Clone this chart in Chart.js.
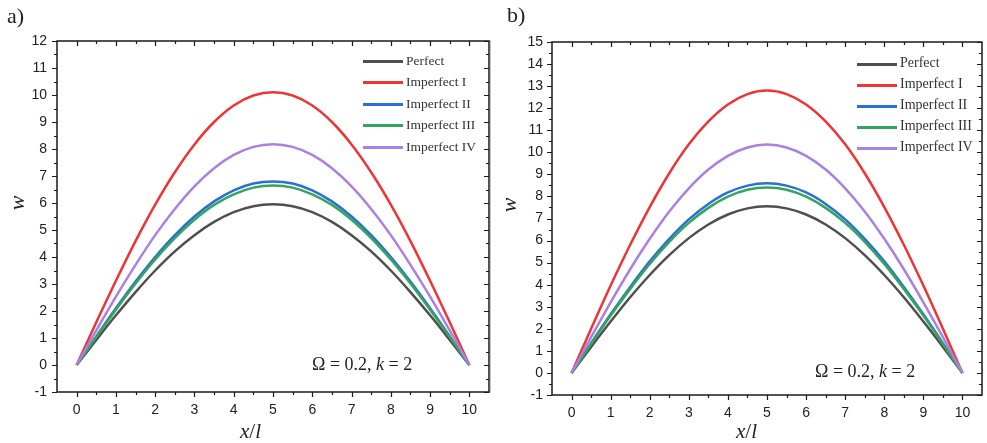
<!DOCTYPE html>
<html>
<head>
<meta charset="utf-8">
<script src="https://cdn.jsdelivr.net/npm/chart.js@4.4.1/dist/chart.umd.min.js"></script>
<style>
  body { margin: 0; background: #fff; }
  #wrap { position: relative; width: 987px; height: 443px; overflow: hidden; }
  canvas { position: absolute; top: 0; }
  .txt { position: absolute; font-family: 'Liberation Serif', 'Times New Roman', serif; color: #222; white-space: nowrap; }
  .leg { position: absolute; font-family: 'Liberation Serif', serif; color: #333; white-space: nowrap; }
  .sw { position: absolute; height: 3px; }
</style>
</head>
<body>
<div id="wrap">
  <canvas id="chartA" width="490" height="443" style="left:0"></canvas>
  <canvas id="chartB" width="497" height="443" style="left:490px"></canvas>
  <div style="position:absolute;left:490px;top:40px;width:1px;height:353px;background:#c8c8c8"></div>
</div>
<script>
// --- DATA ---
const xValues = [0, 0.5, 1, 1.5, 2, 2.5, 3, 3.5, 4, 4.5, 5, 5.5, 6, 6.5, 7, 7.5, 8, 8.5, 9, 9.5, 10];
const xTicks = [0, 1, 2, 3, 4, 5, 6, 7, 8, 9, 10];
const seriesNames = ['Perfect', 'Imperfect I', 'Imperfect II', 'Imperfect III', 'Imperfect IV'];
const seriesColors = ['#4f4f4f', '#ee3434', '#2a6fd6', '#34a55f', '#ab80e2'];

// panel a)
const aPerfect = [0, 0.93, 1.84, 2.70, 3.50, 4.21, 4.81, 5.30, 5.66, 5.88, 5.95, 5.88, 5.66, 5.30, 4.81, 4.21, 3.50, 2.70, 1.84, 0.93, 0];
const aImpI    = [0, 1.58, 3.12, 4.59, 5.94, 7.14, 8.17, 9.00, 9.61, 9.98, 10.1, 9.98, 9.61, 9.00, 8.17, 7.14, 5.94, 4.59, 3.12, 1.58, 0];
const aImpII   = [0, 1.06, 2.10, 3.09, 4.00, 4.81, 5.50, 6.06, 6.47, 6.72, 6.80, 6.72, 6.47, 6.06, 5.50, 4.81, 4.00, 3.09, 2.10, 1.06, 0];
const aImpIII  = [0, 1.04, 2.05, 3.02, 3.91, 4.70, 5.38, 5.93, 6.32, 6.57, 6.65, 6.57, 6.32, 5.93, 5.38, 4.70, 3.91, 3.02, 2.05, 1.04, 0];
const aImpIV   = [0, 1.28, 2.53, 3.71, 4.81, 5.78, 6.62, 7.29, 7.78, 8.08, 8.18, 8.08, 7.78, 7.29, 6.62, 5.78, 4.81, 3.71, 2.53, 1.28, 0];

// panel b)
const bPerfect = [0, 1.18, 2.33, 3.43, 4.44, 5.34, 6.11, 6.73, 7.18, 7.46, 7.55, 7.46, 7.18, 6.73, 6.11, 5.34, 4.44, 3.43, 2.33, 1.18, 0];
const bImpI    = [0, 2.00, 3.96, 5.81, 7.52, 9.05, 10.36, 11.40, 12.17, 12.64, 12.8, 12.64, 12.17, 11.40, 10.36, 9.05, 7.52, 5.81, 3.96, 2.00, 0];
const bImpII   = [0, 1.35, 2.66, 3.90, 5.06, 6.08, 6.96, 7.66, 8.18, 8.49, 8.60, 8.49, 8.18, 7.66, 6.96, 6.08, 5.06, 3.90, 2.66, 1.35, 0];
const bImpIII  = [0, 1.31, 2.60, 3.81, 4.94, 5.94, 6.80, 7.48, 7.99, 8.30, 8.40, 8.30, 7.99, 7.48, 6.80, 5.94, 4.94, 3.81, 2.60, 1.31, 0];
const bImpIV   = [0, 1.62, 3.20, 4.70, 6.08, 7.32, 8.37, 9.22, 9.84, 10.22, 10.35, 10.22, 9.84, 9.22, 8.37, 7.32, 6.08, 4.70, 3.20, 1.62, 0];

const aRange = [-1, 12];
const bRange = [-1, 15];

// frame with inward mirror ticks on top/right, outward ticks bottom/left, plus minor ticks
const frameTicks = {
  id: 'frameTicks',
  afterDraw(chart) {
    const { ctx, chartArea: a, scales: { x, y } } = chart;
    const mids = vals => vals.slice(1).map((v, i) => (v + vals[i]) / 2);
    const xs = x.ticks.map(t => t.value);
    const ys = y.ticks.map(t => t.value);
    ctx.save();
    ctx.strokeStyle = '#1a1a1a';
    ctx.lineWidth = 1.2;
    ctx.beginPath();
    const tickX = (v, len) => {
      const p = Math.round(x.getPixelForValue(v)) + 0.5;
      ctx.moveTo(p, a.bottom); ctx.lineTo(p, a.bottom + len);
      ctx.moveTo(p, a.top); ctx.lineTo(p, a.top + len);
    };
    const tickY = (v, len) => {
      const p = Math.round(y.getPixelForValue(v)) + 0.5;
      ctx.moveTo(a.left, p); ctx.lineTo(a.left - len, p);
      ctx.moveTo(a.right, p); ctx.lineTo(a.right - len, p);
    };
    xs.forEach(v => tickX(v, 5));
    mids(xs).forEach(v => tickX(v, 3));
    ys.forEach(v => tickY(v, 5));
    mids(ys).forEach(v => tickY(v, 3));
    ctx.stroke();
    ctx.lineWidth = 1.5;
    ctx.strokeRect(a.left, a.top, a.right - a.left, a.bottom - a.top);
    ctx.restore();
  }
};

function makePanel(id, series, yRange, geo) {
  const ctx = document.getElementById(id).getContext('2d');
  return new Chart(ctx, {
    type: 'line',
    data: {
      datasets: series.map((vals, i) => ({
        label: seriesNames[i],
        data: xValues.map((xv, j) => ({ x: xv, y: vals[j] })),
        borderColor: seriesColors[i],
        borderWidth: 2.5,
        pointRadius: 0,
        tension: 0.4,
        cubicInterpolationMode: 'monotone',
        order: series.length - i
      }))
    },
    options: {
      responsive: false,
      animation: false,
      layout: { padding: { top: geo.top, right: geo.right, left: 0, bottom: 0 } },
      plugins: { legend: { display: false }, tooltip: { enabled: false } },
      scales: {
        x: {
          type: 'linear', min: -0.5, max: 10.5,
          afterBuildTicks: s => { s.ticks = xTicks.map(v => ({ value: v })); },
          afterFit: s => { s.height = geo.xh; },
          grid: { display: false, drawTicks: false },
          border: { display: false },
          ticks: { padding: 10, color: '#222', font: { family: 'Liberation Sans', size: 14 } }
        },
        y: {
          min: yRange[0], max: yRange[1],
          afterFit: s => { s.width = geo.yw; },
          grid: { display: false, drawTicks: false },
          border: { display: false },
          ticks: { stepSize: 1, padding: geo.ypad, color: '#222', font: { family: 'Liberation Sans', size: 14 } }
        }
      }
    },
    plugins: [frameTicks]
  });
}

makePanel('chartA', [aPerfect, aImpI, aImpII, aImpIII, aImpIV], aRange, { top: 41, right: 1, xh: 51, yw: 57, ypad: 10 });
makePanel('chartB', [bPerfect, bImpI, bImpII, bImpIII, bImpIV], bRange, { top: 42, right: 5, xh: 48, yw: 62, ypad: 9 });

// --- text overlays ---
const wrap = document.getElementById('wrap');
function addText(html, style, cls) {
  const d = document.createElement('div');
  d.className = cls || 'txt';
  d.innerHTML = html;
  Object.assign(d.style, style);
  wrap.appendChild(d);
  return d;
}
addText('a)', { left: '7px', top: '3px', fontSize: '22px' });
addText('b)', { left: '507px', top: '2px', fontSize: '22px' });
addText('<i>x</i>/<i>l</i>', { left: '240px', top: '419px', fontSize: '21px' });
addText('<i>x</i>/<i>l</i>', { left: '736px', top: '419px', fontSize: '21px' });
addText('<i>w</i>', { left: '10px', top: '190px', fontSize: '22px', transform: 'rotate(-90deg)' });
addText('<i>w</i>', { left: '502px', top: '192px', fontSize: '22px', transform: 'rotate(-90deg)' });
addText('\u03A9 = 0.2, <i>k</i> = 2', { left: '312px', top: '354px', fontSize: '18px' });
addText('\u03A9 = 0.2, <i>k</i> = 2', { left: '815px', top: '361px', fontSize: '18px' });

function addLegend(x0, y0, step, fs) {
  seriesNames.forEach((name, i) => {
    const cy = y0 + i * step;
    addText('', { left: x0 + 'px', top: (cy - 1.5) + 'px', width: '40px', background: seriesColors[i] }, 'sw');
    addText(name, { left: (x0 + 43) + 'px', top: (cy - fs * 0.62) + 'px', fontSize: fs + 'px' }, 'leg');
  });
}
addLegend(363, 61, 21.5, 13.5);
addLegend(857, 64, 21, 14);
</script>
</body>
</html>
